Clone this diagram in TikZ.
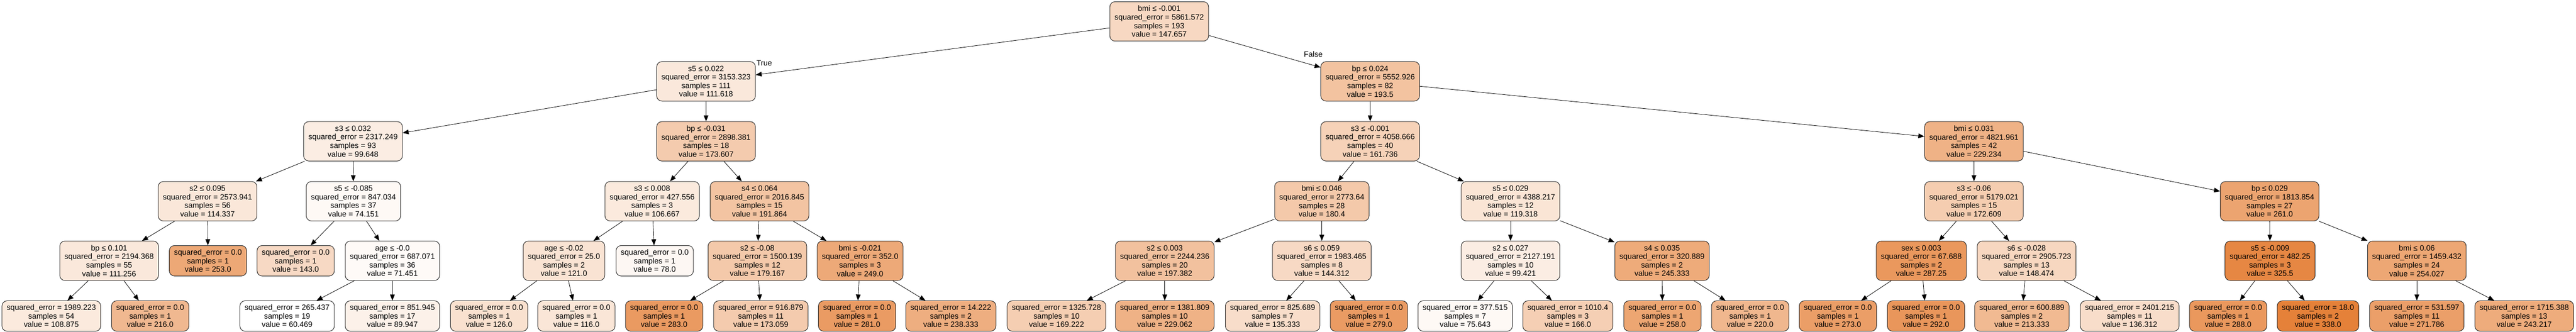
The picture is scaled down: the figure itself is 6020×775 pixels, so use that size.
\documentclass[tikz,border=0pt]{standalone}
\usepackage{fontspec}
\setmainfont{Liberation Sans}
\usetikzlibrary{arrows.meta}
\definecolor{treeor}{HTML}{E58139}
\tikzset{
    box/.style={draw=black!85, line width=1.2pt, rounded corners=12pt, align=center,
      inner xsep=11pt, inner ysep=0pt, font=\fontsize{18}{20}\selectfont},
    split/.style={box, minimum height=92pt},
    leaf/.style={box, minimum height=71pt},
    edge/.style={-{Triangle[length=14pt,width=11pt]}, line width=1pt},
    lbl/.style={inner sep=0pt, font=\fontsize{18}{20}\selectfont}
}

\begin{document}
\begin{tikzpicture}[x=1pt, y=-1pt]
  \useasboundingbox (0,0) rectangle (6020,775);
  % depth 0 and 1
  \node [split, fill=treeor!31!white] (n0) at (2709,50) {bmi ≤ -0.001\\squared\_error = 5861.572\\samples = 193\\value = 147.657};
  \node [split, fill=treeor!18!white] (n1) at (1650,190) {s5 ≤ 0.022\\squared\_error = 3153.323\\samples = 111\\value = 111.618};
  \node [split, fill=treeor!48!white] (n26) at (3202,190) {bp ≤ 0.024\\squared\_error = 5552.926\\samples = 82\\value = 193.5};
  % depth 2
  \node [split, fill=treeor!14!white] (n2) at (825,330) {s3 ≤ 0.032\\squared\_error = 2317.249\\samples = 93\\value = 99.648};
  \node [split, fill=treeor!41!white] (n13) at (1650,330) {bp ≤ -0.031\\squared\_error = 2898.381\\samples = 18\\value = 173.607};
  \node [split, fill=treeor!36!white] (n27) at (3202,330) {s3 ≤ -0.001\\squared\_error = 4058.666\\samples = 40\\value = 161.736};
  \node [split, fill=treeor!61!white] (n42) at (4613,330) {bmi ≤ 0.031\\squared\_error = 4821.961\\samples = 42\\value = 229.234};
  % depth 3
  \node [split, fill=treeor!19!white] (n3) at (485,470) {s2 ≤ 0.095\\squared\_error = 2573.941\\samples = 56\\value = 114.337};
  \node [split, fill=treeor!5!white] (n8) at (826,470) {s5 ≤ -0.085\\squared\_error = 847.034\\samples = 37\\value = 74.151};
  \node [split, fill=treeor!17!white] (n14) at (1524,470) {s3 ≤ 0.008\\squared\_error = 427.556\\samples = 3\\value = 106.667};
  \node [split, fill=treeor!47!white] (n19) at (1775,470) {s4 ≤ 0.064\\squared\_error = 2016.845\\samples = 15\\value = 191.864};
  \node [split, fill=treeor!43!white] (n28) at (3089,470) {bmi ≤ 0.046\\squared\_error = 2773.64\\samples = 28\\value = 180.4};
  \node [split, fill=treeor!21!white] (n35) at (3530,470) {s5 ≤ 0.029\\squared\_error = 4388.217\\samples = 12\\value = 119.318};
  \node [split, fill=treeor!40!white] (n43) at (4613,470) {s3 ≤ -0.06\\squared\_error = 5179.021\\samples = 15\\value = 172.609};
  \node [split, fill=treeor!72!white] (n50) at (5304,470) {bp ≤ 0.029\\squared\_error = 1813.854\\samples = 27\\value = 261.0};
  % depth 4
  \node [split, fill=treeor!18!white] (n4) at (255,609) {bp ≤ 0.101\\squared\_error = 2194.368\\samples = 55\\value = 111.256};
  \node [leaf, fill=treeor!69!white] (n7) at (486,609) {squared\_error = 0.0\\samples = 1\\value = 253.0};
  \node [leaf, fill=treeor!30!white] (n9) at (691,609) {squared\_error = 0.0\\samples = 1\\value = 143.0};
  \node [split, fill=treeor!4!white] (n10) at (917,609) {age ≤ -0.0\\squared\_error = 687.071\\samples = 36\\value = 71.451};
  \node [split, fill=treeor!22!white] (n15) at (1318,609) {age ≤ -0.02\\squared\_error = 25.0\\samples = 2\\value = 121.0};
  \node [leaf, fill=treeor!6!white] (n18) at (1530,609) {squared\_error = 0.0\\samples = 1\\value = 78.0};
  \node [split, fill=treeor!43!white] (n20) at (1770,609) {s2 ≤ -0.08\\squared\_error = 1500.139\\samples = 12\\value = 179.167};
  \node [split, fill=treeor!68!white] (n23) at (2010,609) {bmi ≤ -0.021\\squared\_error = 352.0\\samples = 3\\value = 249.0};
  \node [split, fill=treeor!49!white] (n29) at (2722,609) {s2 ≤ 0.003\\squared\_error = 2244.236\\samples = 20\\value = 197.382};
  \node [split, fill=treeor!30!white] (n32) at (3089,609) {s6 ≤ 0.059\\squared\_error = 1983.465\\samples = 8\\value = 144.312};
  \node [split, fill=treeor!14!white] (n36) at (3530,609) {s2 ≤ 0.027\\squared\_error = 2127.191\\samples = 10\\value = 99.421};
  \node [split, fill=treeor!67!white] (n39) at (3884,609) {s4 ≤ 0.035\\squared\_error = 320.889\\samples = 2\\value = 245.333};
  \node [split, fill=treeor!82!white] (n44) at (4490,609) {sex ≤ 0.003\\squared\_error = 67.688\\samples = 2\\value = 287.25};
  \node [split, fill=treeor!32!white] (n47) at (4736,609) {s6 ≤ -0.028\\squared\_error = 2905.723\\samples = 13\\value = 148.474};
  \node [split, fill=treeor!95!white] (n51) at (5305,609) {s5 ≤ -0.009\\squared\_error = 482.25\\samples = 3\\value = 325.5};
  \node [split, fill=treeor!70!white] (n54) at (5648,609) {bmi ≤ 0.06\\squared\_error = 1459.432\\samples = 24\\value = 254.027};
  % depth 5
  \node [leaf, fill=treeor!17!white] (n5) at (120,738) {squared\_error = 1989.223\\samples = 54\\value = 108.875};
  \node [leaf, fill=treeor!56!white] (n6) at (351,738) {squared\_error = 0.0\\samples = 1\\value = 216.0};
  \node [leaf, fill=white] (n11) at (671,738) {squared\_error = 265.437\\samples = 19\\value = 60.469};
  \node [leaf, fill=treeor!11!white] (n12) at (917,738) {squared\_error = 851.945\\samples = 17\\value = 89.947};
  \node [leaf, fill=treeor!24!white] (n16) at (1143,738) {squared\_error = 0.0\\samples = 1\\value = 126.0};
  \node [leaf, fill=treeor!20!white] (n17) at (1347,738) {squared\_error = 0.0\\samples = 1\\value = 116.0};
  \node [leaf, fill=treeor!80!white] (n21) at (1552,738) {squared\_error = 0.0\\samples = 1\\value = 283.0};
  \node [leaf, fill=treeor!41!white] (n22) at (1778,738) {squared\_error = 916.879\\samples = 11\\value = 173.059};
  \node [leaf, fill=treeor!79!white] (n24) at (2003,738) {squared\_error = 0.0\\samples = 1\\value = 281.0};
  \node [leaf, fill=treeor!64!white] (n25) at (2222,738) {squared\_error = 14.222\\samples = 2\\value = 238.333};
  \node [leaf, fill=treeor!39!white] (n30) at (2469,738) {squared\_error = 1325.728\\samples = 10\\value = 169.222};
  \node [leaf, fill=treeor!61!white] (n31) at (2722,738) {squared\_error = 1381.809\\samples = 10\\value = 229.062};
  \node [leaf, fill=treeor!27!white] (n33) at (2974,738) {squared\_error = 825.689\\samples = 7\\value = 135.333};
  \node [leaf, fill=treeor!79!white] (n34) at (3199,738) {squared\_error = 0.0\\samples = 1\\value = 279.0};
  \node [leaf, fill=treeor!5!white] (n37) at (3424,738) {squared\_error = 377.515\\samples = 7\\value = 75.643};
  \node [leaf, fill=treeor!38!white] (n38) at (3664,738) {squared\_error = 1010.4\\samples = 3\\value = 166.0};
  \node [leaf, fill=treeor!71!white] (n40) at (3885,738) {squared\_error = 0.0\\samples = 1\\value = 258.0};
  \node [leaf, fill=treeor!57!white] (n41) at (4090,738) {squared\_error = 0.0\\samples = 1\\value = 220.0};
  \node [leaf, fill=treeor!77!white] (n45) at (4295,738) {squared\_error = 0.0\\samples = 1\\value = 273.0};
  \node [leaf, fill=treeor!83!white] (n46) at (4501,738) {squared\_error = 0.0\\samples = 1\\value = 292.0};
  \node [leaf, fill=treeor!55!white] (n48) at (4725,738) {squared\_error = 600.889\\samples = 2\\value = 213.333};
  \node [leaf, fill=treeor!27!white] (n49) at (4977,738) {squared\_error = 2401.215\\samples = 11\\value = 136.312};
  \node [leaf, fill=treeor!82!white] (n52) at (5207,738) {squared\_error = 0.0\\samples = 1\\value = 288.0};
  \node [leaf, fill=treeor!100!white] (n53) at (5417,738) {squared\_error = 18.0\\samples = 2\\value = 338.0};
  \node [leaf, fill=treeor!76!white] (n55) at (5648,738) {squared\_error = 531.597\\samples = 11\\value = 271.786};
  \node [leaf, fill=treeor!66!white] (n56) at (5899,738) {squared\_error = 1715.388\\samples = 13\\value = 243.217};
  % edges
  \draw [edge] (n0) -- (n1);   \draw [edge] (n0) -- (n26);
  \draw [edge] (n1) -- (n2);   \draw [edge] (n1) -- (n13);
  \draw [edge] (n2) -- (n3);   \draw [edge] (n2) -- (n8);
  \draw [edge] (n3) -- (n4);   \draw [edge] (n3) -- (n7);
  \draw [edge] (n4) -- (n5);   \draw [edge] (n4) -- (n6);
  \draw [edge] (n8) -- (n9);   \draw [edge] (n8) -- (n10);
  \draw [edge] (n10) -- (n11); \draw [edge] (n10) -- (n12);
  \draw [edge] (n13) -- (n14); \draw [edge] (n13) -- (n19);
  \draw [edge] (n14) -- (n15); \draw [edge] (n14) -- (n18);
  \draw [edge] (n15) -- (n16); \draw [edge] (n15) -- (n17);
  \draw [edge] (n19) -- (n20); \draw [edge] (n19) -- (n23);
  \draw [edge] (n20) -- (n21); \draw [edge] (n20) -- (n22);
  \draw [edge] (n23) -- (n24); \draw [edge] (n23) -- (n25);
  \draw [edge] (n26) -- (n27); \draw [edge] (n26) -- (n42);
  \draw [edge] (n27) -- (n28); \draw [edge] (n27) -- (n35);
  \draw [edge] (n28) -- (n29); \draw [edge] (n28) -- (n32);
  \draw [edge] (n29) -- (n30); \draw [edge] (n29) -- (n31);
  \draw [edge] (n32) -- (n33); \draw [edge] (n32) -- (n34);
  \draw [edge] (n35) -- (n36); \draw [edge] (n35) -- (n39);
  \draw [edge] (n36) -- (n37); \draw [edge] (n36) -- (n38);
  \draw [edge] (n39) -- (n40); \draw [edge] (n39) -- (n41);
  \draw [edge] (n42) -- (n43); \draw [edge] (n42) -- (n50);
  \draw [edge] (n43) -- (n44); \draw [edge] (n43) -- (n47);
  \draw [edge] (n44) -- (n45); \draw [edge] (n44) -- (n46);
  \draw [edge] (n47) -- (n48); \draw [edge] (n47) -- (n49);
  \draw [edge] (n50) -- (n51); \draw [edge] (n50) -- (n54);
  \draw [edge] (n51) -- (n52); \draw [edge] (n51) -- (n53);
  \draw [edge] (n54) -- (n55); \draw [edge] (n54) -- (n56);
  \node [lbl] (ltrue) at (1786,147) {True};
  \node [lbl] (lfalse) at (3069,127) {False};
\end{tikzpicture}
\end{document}
